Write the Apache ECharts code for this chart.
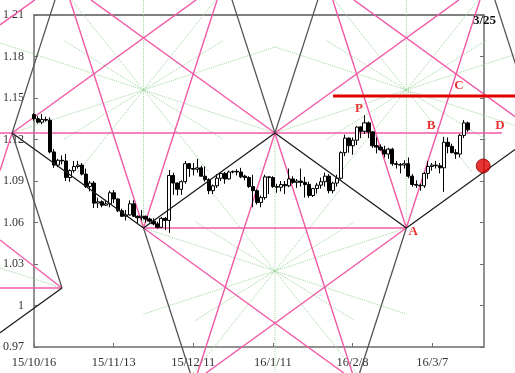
<!DOCTYPE html>
<html><head><meta charset="utf-8">
<script src="https://cdn.jsdelivr.net/npm/echarts@6/dist/echarts.min.js"></script>
<style>html,body{margin:0;padding:0;background:#fff}#c{width:515px;height:373px}</style>
</head><body><div id="c"></div>
<script>
// ---- axis ticks ----
const tickLabels = ['15/10/16','15/11/13','15/12/11','16/1/11','16/2/8','16/3/7'];
const tickIndex = [0,20,40,60,80,100];
const yTicks = [0.97,1.00,1.03,1.06,1.09,1.12,1.15,1.18,1.21];

// ---- daily candles (trading-day index 0..109) ----
const opens = [1.1380,1.1350,1.1325,1.1345,1.1340,1.1110,1.1015,1.1050,1.1045,1.0925,
1.0975,1.1005,1.1015,1.0950,1.0860,1.0885,1.0740,1.0750,1.0725,1.0735,
1.0815,1.0770,1.0685,1.0645,1.0655,1.0735,1.0645,1.0635,1.0645,1.0625,
1.0610,1.0590,1.0565,1.0630,1.0615,1.0940,1.0885,1.0840,1.0895,1.1025,
1.0990,1.0985,1.0995,1.0935,1.0910,1.0830,1.0865,1.0920,1.0955,1.0915,
1.0965,1.0970,1.0965,1.0935,1.0925,1.0860,1.0830,1.0745,1.0780,1.0930,
1.0925,1.0860,1.0855,1.0875,1.0865,1.0915,1.0890,1.0900,1.0890,1.0875,
1.0795,1.0845,1.0870,1.0895,1.0935,1.0830,1.0885,1.0920,1.1105,1.1210,
1.1155,1.1195,1.1290,1.1260,1.1320,1.1255,1.1155,1.1145,1.1125,1.1095,
1.1130,1.1025,1.1020,1.1015,1.1025,1.0935,1.0875,1.0870,1.0865,1.0955,
1.1005,1.1015,1.1010,1.0995,1.1180,1.1150,1.1105,1.1095,1.1230,1.1320];
const closes = [1.1350,1.1325,1.1345,1.1340,1.1110,1.1015,1.1050,1.1045,1.0925,1.0975,
1.1005,1.1015,1.0950,1.0860,1.0885,1.0740,1.0750,1.0725,1.0735,1.0815,
1.0770,1.0685,1.0645,1.0655,1.0735,1.0645,1.0635,1.0645,1.0625,1.0610,
1.0590,1.0565,1.0630,1.0615,1.0940,1.0885,1.0840,1.0895,1.1025,1.0990,
1.0985,1.0995,1.0935,1.0910,1.0830,1.0865,1.0920,1.0955,1.0915,1.0965,
1.0970,1.0965,1.0930,1.0925,1.0860,1.0830,1.0745,1.0780,1.0930,1.0925,
1.0860,1.0855,1.0875,1.0865,1.0915,1.0890,1.0900,1.0890,1.0875,1.0795,
1.0845,1.0870,1.0895,1.0935,1.0830,1.0885,1.0920,1.1105,1.1210,1.1155,
1.1195,1.1290,1.1260,1.1320,1.1255,1.1155,1.1145,1.1125,1.1095,1.1130,
1.1025,1.1020,1.1015,1.1025,1.0935,1.0875,1.0870,1.0865,1.0955,1.1005,
1.1015,1.1010,1.0995,1.1180,1.1150,1.1105,1.1095,1.1230,1.1320,1.1270];
const lows = [1.1335,1.1315,1.1310,1.1330,1.1100,1.0995,1.1000,1.1020,1.0900,1.0895,
1.0960,1.0990,1.0940,1.0850,1.0825,1.0705,1.0705,1.0710,1.0720,1.0710,
1.0740,1.0675,1.0640,1.0615,1.0650,1.0640,1.0595,1.0615,1.0600,1.0600,
1.0580,1.0555,1.0560,1.0545,1.0525,1.0800,1.0795,1.0800,1.0880,1.0930,
1.0940,1.0960,1.0930,1.0895,1.0805,1.0805,1.0850,1.0900,1.0880,1.0910,
1.0955,1.0940,1.0920,1.0905,1.0850,1.0710,1.0730,1.0710,1.0765,1.0805,
1.0850,1.0815,1.0825,1.0805,1.0855,1.0880,1.0850,1.0860,1.0780,1.0780,
1.0785,1.0810,1.0845,1.0860,1.0810,1.0810,1.0860,1.0910,1.1080,1.1105,
1.1090,1.1160,1.1210,1.1240,1.1210,1.1140,1.1100,1.1120,1.1070,1.1060,
1.1010,1.0990,1.0955,1.0990,1.0920,1.0860,1.0850,1.0830,1.0850,1.0915,
1.0975,1.0990,1.0955,1.0822,1.1100,1.1100,1.1060,1.1070,1.1210,1.1255];
const highs = [1.1390,1.1370,1.1385,1.1365,1.1360,1.1130,1.1060,1.1085,1.1095,1.0985,
1.1045,1.1045,1.1030,1.0990,1.0900,1.0900,1.0780,1.0760,1.0765,1.0830,
1.0835,1.0775,1.0700,1.0690,1.0760,1.0760,1.0650,1.0690,1.0650,1.0635,
1.0630,1.0605,1.0640,1.0640,1.0980,1.0960,1.0890,1.0905,1.1045,1.1030,
1.1030,1.1060,1.1010,1.1005,1.0920,1.0875,1.0950,1.0965,1.0965,1.0975,
1.0975,1.0985,1.0995,1.0945,1.0935,1.0945,1.0840,1.0795,1.0945,1.0935,
1.0935,1.0880,1.0900,1.0900,1.0990,1.0935,1.0915,1.0990,1.0930,1.0895,
1.0850,1.0885,1.0925,1.0960,1.0950,1.0895,1.0945,1.1115,1.1235,1.1215,
1.1215,1.1295,1.1295,1.1376,1.1330,1.1260,1.1215,1.1165,1.1155,1.1140,
1.1140,1.1045,1.1030,1.1050,1.1070,1.0950,1.0905,1.0880,1.0965,1.1045,
1.1030,1.1045,1.1030,1.1218,1.1215,1.1170,1.1130,1.1240,1.1340,1.1330];

// ---- construction lines, in (trading-day index, price) ----
const trendLines = [
  [[-5.5,1.1247],[27.5,1.056],[60.5,1.1247],[93.5,1.056],[120.8,1.1128]],
  [[7.03,1.0127],[-8.54,0.9803]]
];
const steepLines = [
  [[5.28,1.2209],[-5.5,1.1247],[7.03,1.0127]],
  [[49.72,1.2209],[60.5,1.1247],[71.28,1.2209]],
  [[27.5,1.056],[39.24,0.9512]],
  [[93.5,1.056],[81.76,0.9512]],
  [[115.72,1.2209],[126.5,1.1247]]
];
const pinkLines = [
  [[-8.54,1.1247],[117.5,1.1247]],
  [[27.5,1.056],[93.5,1.056]],
  [[-8.54,1.0127],[7.03,1.0127]],
  [[9.02,1.2209],[27.5,1.056],[45.98,1.2209]],
  [[75.02,1.2209],[93.5,1.056],[111.98,1.2209]],
  [[41.06,0.9512],[60.5,1.1247],[79.94,0.9512]],
  [[-5.5,1.1247],[-8.54,1.0976]],
  [[-5.5,1.1247],[40.7,1.2209]],
  [[60.5,1.1247],[14.3,1.2209]],
  [[60.5,1.1247],[106.7,1.2209]],
  [[126.5,1.1247],[80.3,1.2209]],
  [[27.5,1.056],[77.8,0.9512]],
  [[93.5,1.056],[43.2,0.9512]],
  [[-8.54,1.2028],[0.2,1.2209]],
  [[-8.54,1.0474],[7.03,1.0127]]
];
const greenLines = [
  [[-8.54,1.1898],[27.5,1.1558],[60.5,1.1869]],
  [[-5.5,1.1247],[27.5,1.1558],[60.5,1.1247]],
  [[7.5,1.1915],[27.5,1.1558],[47.5,1.1915]],
  [[7.5,1.1201],[27.5,1.1558],[47.5,1.1201]],
  [[9.4,1.2209],[27.5,1.1558],[45.6,1.2209]],
  [[11,1.0964],[27.5,1.1558],[44,1.0964]],
  [[27.5,1.2209],[27.5,1.056]],
  [[60.5,1.1869],[93.5,1.1558],[120.8,1.1815]],
  [[60.5,1.1247],[93.5,1.1558],[120.8,1.1301]],
  [[73.5,1.1915],[93.5,1.1558],[113.5,1.1915]],
  [[73.5,1.1201],[93.5,1.1558],[113.5,1.1201]],
  [[75.4,1.2209],[93.5,1.1558],[111.6,1.2209]],
  [[77,1.0964],[93.5,1.1558],[110,1.0964]],
  [[93.5,1.2209],[93.5,1.056]],
  [[27.5,1.056],[60.5,1.0249],[93.5,1.056]],
  [[27.5,0.9938],[60.5,1.0249],[93.5,0.9938]],
  [[40.5,1.0606],[60.5,1.0249],[80.5,1.0606]],
  [[40.5,0.9892],[60.5,1.0249],[80.5,0.9892]],
  [[40,0.9512],[60.5,1.0249],[81,0.9512]],
  [[44,1.0843],[60.5,1.0249],[77,1.0843]],
  [[60.5,1.1247],[60.5,0.9512]],
  [[-8.54,1.0271],[7.03,1.0127]]
];
const redLine = [[75.1,1.1515],[121,1.1515]];
const markNames = ['P','A','B','C','D'];
const markX = [81.6,95.2,99.7,106.7,117.0];
const markY = [1.142,1.0535,1.1298,1.1587,1.1298];
const redDot = [[112.8,1.1009]];

const serif = '"Liberation Serif","DejaVu Serif",serif';
const candleData = opens.map((o,i)=>[i,o,closes[i],lows[i],highs[i]]);

// full-canvas overlay scale, aligned with the plot axes
const X0 = 0, X1 = 113, Y0 = 0.97, Y1 = 1.21;
const gL = 34, gR = 31, gT = 15, gB = 26, W = 515, H = 373;
const pxX = (X1 - X0) / (W - gL - gR), pxY = (Y1 - Y0) / (H - gT - gB);
const ovXmin = X0 - gL * pxX, ovXmax = X1 + gR * pxX;
const ovYmin = Y0 - gB * pxY, ovYmax = Y1 + gT * pxY;

function lineSeries(list, color, width, type, z){
  return list.map(seg=>({type:'line', xAxisIndex:2, yAxisIndex:2, data:seg, symbol:'none',
    clip:false, silent:true, z:z, animation:false, lineStyle:{color:color, width:width, type:type}}));
}

const series = [].concat(
  lineSeries(greenLines,'#9ed69e',1,'dotted',1),
  lineSeries(pinkLines,'#f25aa6',1.4,'solid',2),
  [{type:'candlestick', data:candleData, encode:{x:0,y:[1,2,3,4]}, barWidth:3.6, z:3,
    itemStyle:{color:'#ffffff', color0:'#000000', borderColor:'#000000', borderColor0:'#000000', borderWidth:1}}],
  lineSeries(steepLines,'#555555',1.3,'solid',4),
  lineSeries(trendLines,'#1c1c1c',1.3,'solid',4),
  lineSeries([redLine],'#e00000',3,'solid',5),
  [{type:'scatter', xAxisIndex:2, yAxisIndex:2, data:markX.map((x,i)=>[x,markY[i]]), symbolSize:0, z:6, silent:true,
    label:{show:true, position:'inside', formatter:p=>markNames[p.dataIndex], color:'#e00000',
      fontFamily:serif, fontWeight:'bold', fontSize:13}},
   {type:'scatter', xAxisIndex:2, yAxisIndex:2, data:redDot, symbolSize:14, z:6, silent:true,
    itemStyle:{color:'#e00000', borderColor:'#900000', borderWidth:1}}]
);

const hidden = {show:false};
const chart = echarts.init(document.getElementById('c'), null, {renderer:'canvas'});
chart.setOption({
  animation:false,
  backgroundColor:'#ffffff',
  grid:[{left:gL, right:gR, top:gT, bottom:gB},
        {left:0, right:0, top:0, bottom:0}],
  xAxis:[
    {type:'value', gridIndex:0, min:X0, max:X1, position:'bottom',
     axisLine:{onZero:false, lineStyle:{color:'#6e6e6e', width:1.5}},
     axisTick:{inside:true, length:4, customValues:tickIndex, lineStyle:{color:'#6e6e6e'}},
     axisLabel:{customValues:tickIndex, margin:9, fontFamily:serif, fontSize:12.5, color:'#333',
       formatter:v=>{const k=tickIndex.indexOf(Math.round(v)); return k<0?'':tickLabels[k];}},
     splitLine:{show:false}},
    {type:'value', gridIndex:0, min:X0, max:X1, position:'top',
     axisLine:{onZero:false, lineStyle:{color:'#808080', width:2}},
     axisTick:{show:false}, axisLabel:{show:false}, splitLine:{show:false}},
    {type:'value', gridIndex:1, min:ovXmin, max:ovXmax, show:false, splitLine:hidden}
  ],
  yAxis:[
    {type:'value', gridIndex:0, min:Y0, max:Y1, position:'left',
     axisLine:{show:true, onZero:false, lineStyle:{color:'#6e6e6e', width:1.5}},
     axisTick:{show:true, inside:true, length:4, customValues:yTicks, lineStyle:{color:'#6e6e6e'}},
     axisLabel:{customValues:yTicks, margin:10, fontFamily:serif, fontSize:12, color:'#333',
       formatter:v=>String(+v.toFixed(2))},
     splitLine:{show:false}},
    {type:'value', gridIndex:0, min:Y0, max:Y1, position:'right',
     axisLine:{show:true, onZero:false, lineStyle:{color:'#6e6e6e', width:1.5}},
     axisTick:{show:true, inside:true, length:4, customValues:yTicks, lineStyle:{color:'#6e6e6e'}},
     axisLabel:{show:false}, splitLine:{show:false}},
    {type:'value', gridIndex:1, min:ovYmin, max:ovYmax, show:false, splitLine:hidden}
  ],
  graphic:[{type:'text', left:473, top:14, z:10,
    style:{text:'3/25', font:'bold 13px "Liberation Serif"', fill:'#111'}}],
  series:series
});
</script></body></html>
